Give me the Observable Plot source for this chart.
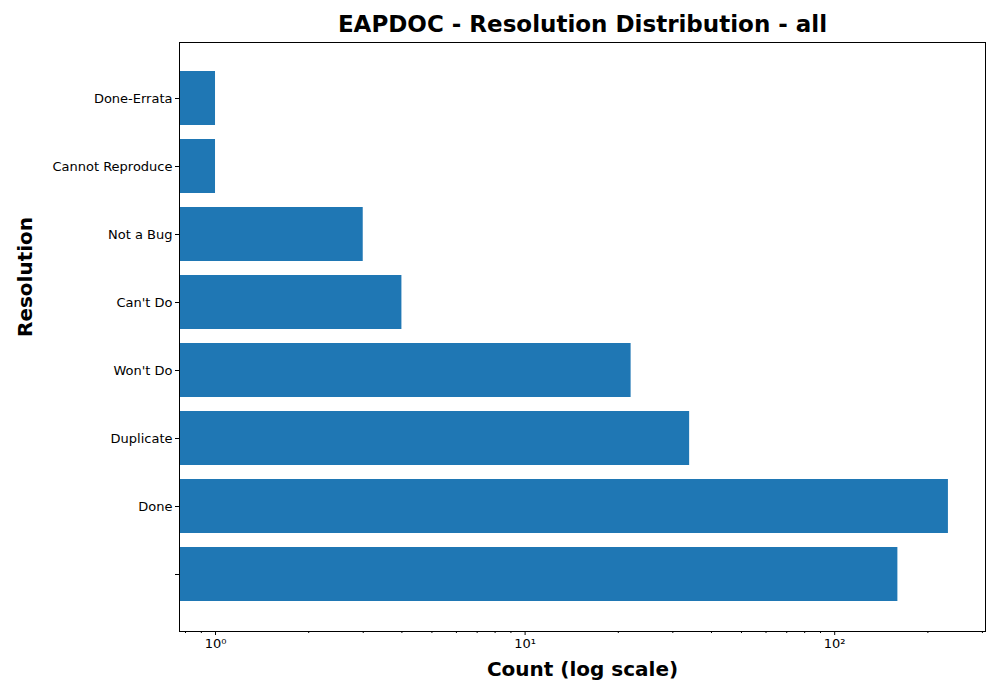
<!DOCTYPE html>
<html><head><meta charset="utf-8">
<script src="https://cdn.jsdelivr.net/npm/d3@7"></script>
<script src="https://cdn.jsdelivr.net/npm/@observablehq/plot@0.6"></script>
<style>body{margin:0;background:#fff;font-family:"DejaVu Sans",sans-serif}</style>
</head><body><div id="chart"></div>
<script>
const resolutions = ['Done-Errata', 'Cannot Reproduce', 'Not a Bug', "Can't Do", "Won't Do", 'Duplicate', 'Done', '']
const counts = [1, 1, 3, 4, 22, 34, 233, 160]
const majorTicks = [1, 10, 100]
const minorTicks = [0.8, 0.9, 2, 3, 4, 5, 6, 7, 8, 9, 20, 30, 40, 50, 60, 70, 80, 90, 200, 300]
const xDomain = [0.765, 307]

const data = resolutions.map((r, i) => ({resolution: r, count: counts[i]}))
const sup = {'0': '⁰', '1': '¹', '2': '²'}

const chart = Plot.plot({
  width: 1000, height: 700,
  marginLeft: 179, marginRight: 15, marginTop: 42, marginBottom: 69,
  style: {fontFamily: 'DejaVu Sans', fontSize: '13px', color: '#000'},
  x: {type: 'log', domain: xDomain},
  y: {domain: resolutions, paddingInner: 0.2, paddingOuter: 0.39},
  marks: [
    Plot.barX(data, {y: 'resolution', x1: xDomain[0], x2: 'count', fill: '#1f77b4'}),
    Plot.frame({stroke: '#000'}),
    Plot.axisX(majorTicks, {tickSize: 4, tickPadding: 3, fontSize: 13,
      tickFormat: d => '10' + sup[String(Math.round(Math.log10(d)))], label: null}),
    Plot.axisX(minorTicks.filter(t => t >= xDomain[0] && t <= xDomain[1]), {tickSize: 2, tickFormat: () => '', label: null}),
    Plot.axisY({tickSize: 4, tickPadding: 3, fontSize: 13, label: null}),
    Plot.text(['EAPDOC - Resolution Distribution - all'], {frameAnchor: 'top', dy: -27, fontSize: 23, fontWeight: 'bold'}),
    Plot.text(['Count (log scale)'], {frameAnchor: 'bottom', dy: 44, fontSize: 20, fontWeight: 'bold'}),
    Plot.text(['Resolution'], {frameAnchor: 'left', dx: -154, rotate: -90, fontSize: 20, fontWeight: 'bold'})
  ]
})
d3.select('#chart').append(() => chart)
</script></body></html>
